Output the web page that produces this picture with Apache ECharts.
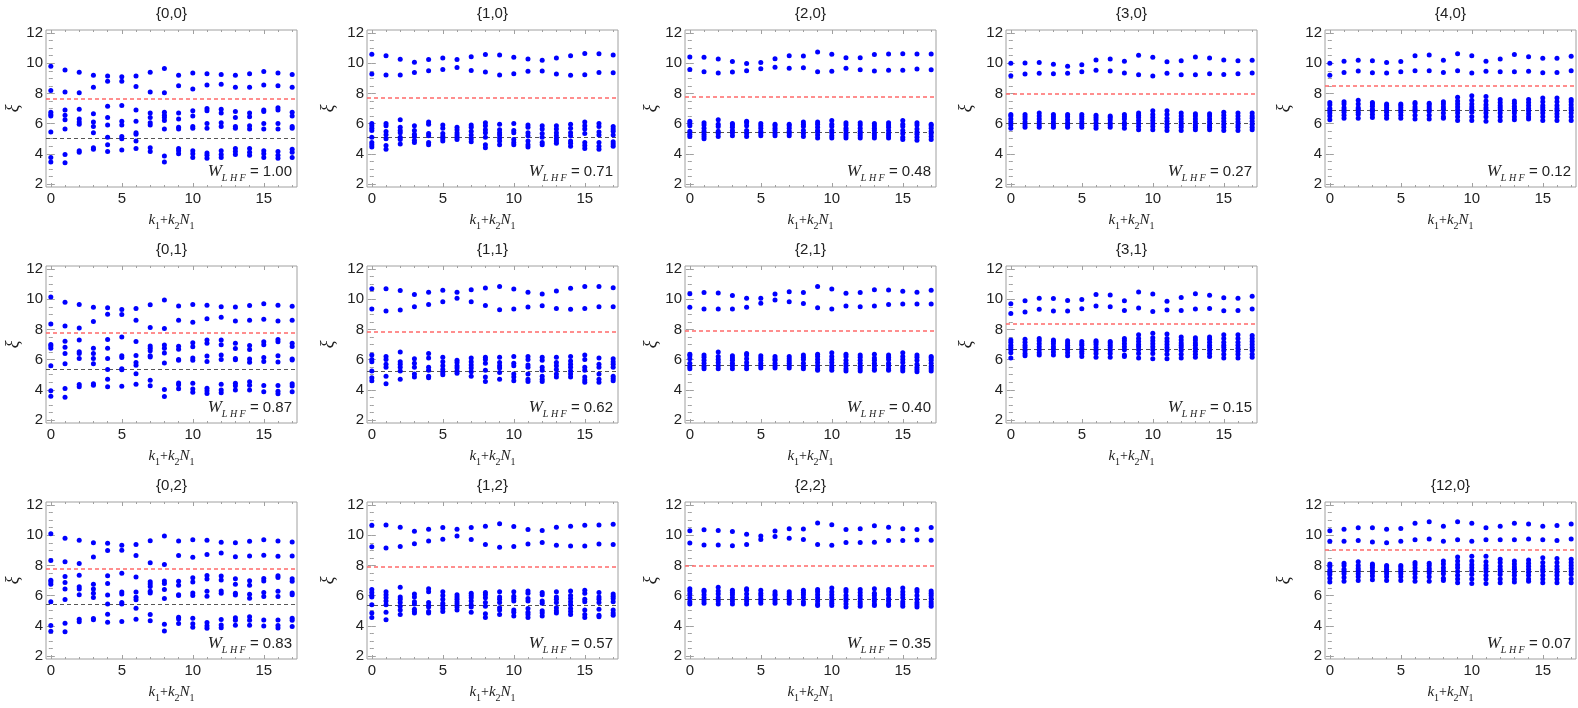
<!DOCTYPE html>
<html><head><meta charset="utf-8">
<script src="https://cdn.jsdelivr.net/npm/echarts@6/dist/echarts.min.js"></script>
<style>html,body{margin:0;padding:0;background:#fff}#c{width:1578px;height:708px}</style>
</head><body><div id="c"></div><script>
// ---------- data ----------
const kValues = [0,1,2,3,4,5,6,7,8,9,10,11,12,13,14,15,16,17];
const xTicks = [0,5,10,15];
const xMinorTicks = [1,2,3,4,6,7,8,9,11,12,13,14,16,17];
const yTicks = [2,4,6,8,10,12];
const yMinorTicks = [2.5,3,3.5,4.5,5,5.5,6.5,7,7.5,8.5,9,9.5,10.5,11,11.5];
const panelLabels = ['{0,0}','{1,0}','{2,0}','{3,0}','{4,0}','{0,1}','{1,1}','{2,1}','{3,1}','{0,2}','{1,2}','{2,2}','{12,0}'];
const weights = ['1.00','0.71','0.48','0.27','0.12','0.87','0.62','0.40','0.15','0.83','0.57','0.35','0.07'];
const redLevels  = [7.65, 7.7, 7.8, 7.95, 8.5, 7.75, 7.85, 7.9, 8.35, 7.75, 7.88, 7.95, 9.05];
const grayLevels = [5.02, 5.1, 5.45, 6.05, 6.9, 5.35, 5.25, 5.65, 6.7, 5.42, 5.38, 5.75, 7.6];

const p00 = [
[9.8,8.2,6.75,6.6,6.5,5.45,3.75,3.45],
[9.55,8.1,6.9,6.55,6.25,5.65,3.95,3.4],
[9.4,8.05,6.95,6.3,6.1,5.95,4.2,4.1],
[9.2,8.4,6.65,6.1,5.8,5.4,4.4,4.3],
[9.15,8.8,7.15,6.4,5.9,5.1,4.6,4.15],
[9.1,8.8,7.2,6.15,5.9,5.15,5.0,4.25],
[9.15,8.45,6.9,6.15,5.4,5.3,4.85,4.35],
[9.4,8.1,6.7,6.4,6.05,5.9,4.4,4.15],
[9.65,8.05,6.75,6.55,6.4,6.2,5.65,3.85,3.45],
[9.2,8.5,6.7,6.3,5.75,5.65,4.35,4.2,4.0],
[9.35,8.3,6.85,6.5,5.8,5.7,4.2,4.0,3.75],
[9.3,8.55,7.0,6.85,6.0,5.7,4.05,3.9,3.7],
[9.25,8.6,6.95,6.7,6.05,5.8,4.2,3.95,3.75],
[9.2,8.4,6.8,6.4,5.8,5.7,4.35,4.15,3.95],
[9.3,8.4,6.7,6.45,5.85,5.65,4.35,4.1,3.9],
[9.45,8.55,6.9,6.8,6.0,5.65,4.2,4.0,3.75],
[9.35,8.5,7.05,6.9,6.0,5.65,4.15,3.9,3.7],
[9.25,8.4,6.75,6.5,5.8,5.7,4.3,4.1,3.75]];

const p10 = [
[10.6,9.28,6.0,5.85,5.7,5.55,5.1,4.75,4.6,4.45],
[10.5,9.22,6.0,5.85,5.48,5.26,5.0,4.55,4.3],
[10.26,9.22,6.25,5.75,5.55,5.4,5.1,4.95,4.65],
[10.07,9.39,5.85,5.55,5.3,5.15,4.9,4.75],
[10.24,9.5,6.1,5.95,5.35,5.2,4.75,4.6],
[10.35,9.59,5.9,5.7,5.35,5.15,5.0,4.85],
[10.24,9.72,5.75,5.6,5.4,5.25,5.1,4.95],
[10.43,9.52,5.9,5.75,5.5,5.25,5.0,4.8],
[10.57,9.41,6.05,5.85,5.6,5.4,5.1,4.6,4.4],
[10.54,9.22,5.95,5.6,5.4,5.25,5.05,4.85,4.6],
[10.39,9.3,6.0,5.55,5.4,4.95,4.75,4.6],
[10.28,9.46,5.9,5.75,5.4,5.2,4.85,4.6,4.45],
[10.2,9.48,5.85,5.65,5.35,5.1,4.75,4.6],
[10.35,9.28,5.85,5.65,5.4,5.2,5.0,4.85,4.7],
[10.5,9.2,5.95,5.7,5.4,5.2,4.85,4.7,4.5],
[10.65,9.24,6.1,5.85,5.65,5.35,4.75,4.55,4.35],
[10.63,9.39,6.0,5.8,5.45,5.25,4.75,4.5,4.3],
[10.54,9.37,5.8,5.65,5.5,5.25,4.8,4.65,4.5]];

const p20 = [
[10.41,9.59,6.15,6.0,5.85,5.5,5.3,5.15],
[10.39,9.43,6.05,5.9,5.7,5.5,5.3,5.15,5.0],
[10.28,9.35,6.25,5.95,5.8,5.5,5.35,5.15],
[10.11,9.41,6.0,5.9,5.75,5.55,5.4,5.2],
[9.98,9.5,6.15,6.05,5.85,5.55,5.35,5.15],
[10.04,9.63,6.0,5.85,5.7,5.5,5.35,5.2],
[10.3,9.74,5.95,5.85,5.7,5.55,5.35,5.2],
[10.5,9.67,5.95,5.85,5.7,5.5,5.35,5.2],
[10.48,9.7,6.1,5.95,5.8,5.55,5.35,5.15],
[10.74,9.43,6.1,5.95,5.75,5.55,5.45,5.25,5.05],
[10.59,9.46,6.2,5.95,5.8,5.55,5.4,5.2,5.05],
[10.37,9.67,6.05,5.9,5.7,5.55,5.35,5.2,5.05],
[10.37,9.57,6.05,5.9,5.7,5.5,5.35,5.2,5.05],
[10.57,9.48,6.0,5.85,5.7,5.55,5.35,5.2,5.05],
[10.61,9.54,6.05,5.9,5.75,5.55,5.35,5.2,5.05],
[10.63,9.54,6.2,5.95,5.8,5.55,5.35,5.1,4.95],
[10.61,9.61,6.05,5.9,5.65,5.45,5.3,5.1,4.9],
[10.61,9.57,5.95,5.85,5.7,5.5,5.35,5.15,4.95]];

const p30 = [
[10.0,9.17,6.6,6.5,6.3,6.1,5.9,5.7],
[10.02,9.28,6.6,6.45,6.3,6.1,5.9,5.75],
[10.04,9.33,6.7,6.5,6.3,6.1,5.9,5.75],
[9.93,9.3,6.6,6.45,6.3,6.1,5.9,5.75],
[9.8,9.33,6.6,6.45,6.25,6.05,5.9,5.75],
[9.89,9.43,6.6,6.45,6.3,6.1,5.9,5.75],
[10.22,9.54,6.55,6.4,6.25,6.05,5.85,5.7],
[10.28,9.48,6.5,6.4,6.25,6.05,5.9,5.75],
[10.13,9.35,6.6,6.45,6.3,6.05,5.9,5.7],
[10.52,9.24,6.7,6.55,6.4,6.2,6.0,5.8,5.6],
[10.39,9.15,6.85,6.6,6.4,6.2,6.0,5.8,5.6],
[10.09,9.33,6.85,6.6,6.35,6.15,5.95,5.75,5.55],
[10.17,9.24,6.7,6.5,6.3,6.1,5.9,5.75,5.55],
[10.41,9.24,6.65,6.5,6.3,6.1,5.9,5.75,5.6],
[10.35,9.3,6.65,6.5,6.3,6.1,5.9,5.75,5.6],
[10.22,9.26,6.75,6.55,6.35,6.15,5.95,5.75,5.55],
[10.17,9.3,6.7,6.5,6.3,6.1,5.9,5.75,5.55],
[10.2,9.35,6.7,6.5,6.35,6.15,5.95,5.75,5.6]];

const p40 = [
[10.0,9.2,7.4,7.25,7.0,6.85,6.7,6.5,6.25],
[10.13,9.39,7.45,7.3,7.05,6.9,6.75,6.55,6.35],
[10.2,9.48,7.55,7.3,7.05,6.95,6.75,6.6,6.35],
[10.17,9.37,7.4,7.3,7.15,6.95,6.8,6.6,6.4],
[10.04,9.35,7.3,7.2,7.05,6.9,6.75,6.55,6.35],
[10.11,9.43,7.3,7.2,7.05,6.9,6.75,6.55,6.35],
[10.5,9.5,7.4,7.3,7.1,6.95,6.8,6.55,6.3],
[10.54,9.5,7.35,7.25,7.1,6.95,6.8,6.55,6.3],
[10.2,9.39,7.45,7.3,7.1,6.95,6.7,6.45,6.35],
[10.63,9.5,7.75,7.5,7.3,7.1,6.9,6.7,6.45,6.2],
[10.5,9.35,7.85,7.55,7.3,7.1,6.95,6.75,6.45,6.2],
[10.13,9.46,7.8,7.5,7.25,7.05,6.9,6.7,6.45,6.15],
[10.28,9.43,7.6,7.4,7.2,7.05,6.9,6.7,6.45,6.2],
[10.57,9.43,7.5,7.35,7.15,7.0,6.85,6.7,6.45,6.25],
[10.43,9.46,7.6,7.4,7.2,7.0,6.85,6.65,6.45,6.3],
[10.33,9.37,7.7,7.45,7.2,7.05,6.9,6.7,6.45,6.2],
[10.33,9.39,7.7,7.45,7.2,7.0,6.85,6.65,6.45,6.2],
[10.46,9.5,7.6,7.45,7.25,7.05,6.9,6.7,6.45,6.2]];

const p01 = [
[10.15,8.35,7.0,6.9,6.75,5.6,3.93,3.57],
[9.8,8.22,7.22,6.82,6.4,5.73,4.08,3.5],
[9.65,8.1,7.3,6.52,6.4,6.07,4.35,4.2],
[9.47,8.53,6.75,6.4,6.07,5.73,4.4,4.3],
[9.43,9.0,7.33,6.75,6.07,5.35,4.7,4.2],
[9.32,8.98,7.5,6.25,6.14,5.4,5.32,4.24],
[9.38,8.6,7.2,6.27,5.8,5.62,5.07,4.37],
[9.63,8.13,6.9,6.75,6.58,6.25,6.17,4.63,4.26],
[9.95,8.06,6.97,6.75,6.43,5.77,4.02,3.55],
[9.55,8.6,6.88,6.68,6.01,5.95,4.45,4.33,4.07],
[9.65,8.48,7.12,6.85,6.1,5.95,4.43,4.05,3.83],
[9.6,8.7,7.3,7.08,6.23,5.88,4.1,3.93,3.76],
[9.5,8.8,7.3,6.98,6.3,6.0,4.36,3.98,3.81],
[9.48,8.55,7.08,6.73,6.08,5.99,4.43,4.27,3.98],
[9.58,8.6,6.93,6.67,6.04,5.82,4.54,4.3,3.98],
[9.7,8.68,7.18,6.98,6.14,5.88,4.28,3.87],
[9.6,8.56,7.33,7.18,6.25,5.84,4.28,3.91,3.74],
[9.53,8.6,7.08,6.86,6.04,5.97,4.4,4.25,3.87]];

const p11 = [
[10.7,9.35,6.3,6.0,5.85,5.25,4.8,4.6],
[10.7,9.22,6.2,6.0,5.7,5.5,4.9,4.4],
[10.57,9.28,6.5,5.85,5.7,5.5,5.25,4.7],
[10.31,9.5,6.05,5.75,5.5,5.05,4.85],
[10.46,9.65,6.4,6.1,5.5,5.3,4.9,4.8],
[10.59,9.83,6.15,5.85,5.6,5.35,5.15,5.0],
[10.46,10.07,5.95,5.8,5.6,5.45,5.25,5.1],
[10.63,9.83,6.1,5.85,5.65,5.45,5.2,4.9],
[10.74,9.59,6.15,6.0,5.75,5.3,4.85,4.55],
[10.85,9.31,6.15,5.8,5.6,5.45,5.15,4.7],
[10.68,9.35,6.2,5.75,5.6,5.05,4.85,4.6],
[10.46,9.48,6.2,6.0,5.65,5.5,5.05,4.7,4.55],
[10.35,9.57,6.15,5.95,5.5,5.3,4.9,4.7,4.55],
[10.55,9.39,6.15,5.8,5.6,5.35,5.05,4.85],
[10.72,9.33,6.2,5.9,5.7,5.5,5.25,5.05,4.85],
[10.85,9.39,6.3,6.0,5.5,5.3,4.85,4.65,4.5],
[10.85,9.5,6.1,5.7,5.5,5.05,4.7,4.5],
[10.76,9.5,6.05,5.85,5.7,5.5,4.9,4.75,4.6]];

const p21 = [
[10.37,9.46,6.35,6.25,6.05,5.75,5.55,5.4],
[10.44,9.35,6.3,6.15,5.95,5.75,5.55,5.4],
[10.41,9.35,6.5,6.2,6.0,5.8,5.6,5.4],
[10.24,9.35,6.25,6.1,5.95,5.75,5.6,5.4],
[10.07,9.46,6.4,6.3,6.05,5.8,5.6,5.4],
[10.07,9.74,6.25,6.1,5.95,5.75,5.6,5.45],
[10.35,9.94,6.2,6.05,5.95,5.75,5.6,5.45],
[10.5,9.83,6.2,6.05,5.9,5.75,5.6,5.45],
[10.44,9.72,6.3,6.15,6.0,5.75,5.55,5.4],
[10.85,9.44,6.35,6.2,6.0,5.8,5.6,5.4,5.3],
[10.68,9.35,6.45,6.2,6.0,5.8,5.6,5.45,5.3],
[10.39,9.55,6.35,6.2,5.95,5.75,5.6,5.4,5.25],
[10.44,9.5,6.3,6.15,5.95,5.75,5.55,5.4,5.25],
[10.63,9.55,6.35,6.1,5.95,5.75,5.6,5.4,5.3],
[10.61,9.65,6.3,6.15,6.0,5.75,5.6,5.4,5.3],
[10.52,9.68,6.45,6.2,6.0,5.8,5.55,5.4,5.25],
[10.46,9.68,6.3,6.15,5.95,5.7,5.5,5.35,5.2],
[10.59,9.68,6.2,6.1,5.95,5.75,5.55,5.4,5.25]];

const p31 = [
[9.7,9.05,7.3,7.15,6.95,6.8,6.65,6.45,6.1],
[9.89,9.15,7.35,7.15,6.95,6.8,6.6,6.4,6.25],
[10.07,9.33,7.4,7.25,7.05,6.85,6.65,6.45,6.3],
[10.05,9.22,7.3,7.2,7.05,6.85,6.7,6.5,6.3],
[9.91,9.22,7.25,7.1,6.95,6.8,6.65,6.45,6.25],
[9.98,9.37,7.2,7.05,6.95,6.75,6.55,6.4,6.2],
[10.31,9.55,7.25,7.15,7.0,6.8,6.6,6.4,6.15],
[10.28,9.5,7.2,7.1,6.95,6.8,6.6,6.4,6.15],
[9.89,9.26,7.4,7.25,7.05,6.85,6.65,6.3,6.2],
[10.48,9.41,7.65,7.4,7.2,7.0,6.85,6.65,6.4,6.1],
[10.35,9.18,7.75,7.45,7.25,7.05,6.85,6.65,6.4,6.05],
[9.87,9.28,7.7,7.4,7.2,7.0,6.8,6.6,6.35,6.05],
[10.11,9.26,7.5,7.3,7.1,6.95,6.8,6.6,6.35,6.1],
[10.37,9.35,7.45,7.3,7.1,6.95,6.75,6.55,6.35,6.15],
[10.26,9.39,7.5,7.35,7.15,6.95,6.8,6.6,6.4,6.2],
[10.09,9.24,7.65,7.4,7.15,6.95,6.8,6.6,6.35,6.1],
[10.07,9.26,7.65,7.4,7.15,6.95,6.75,6.55,6.35,6.1],
[10.2,9.35,7.6,7.4,7.2,7.0,6.8,6.6,6.35,6.15]];

const p02 = [
[10.1,8.32,7.01,6.9,6.75,5.59,4.02,3.63],
[9.8,8.24,7.27,6.86,6.43,5.74,4.17,3.61],
[9.66,8.13,7.35,6.58,6.43,6.06,4.43,4.26],
[9.5,8.56,6.75,6.43,6.15,5.87,4.49,4.4],
[9.46,8.99,7.31,6.8,6.04,5.44,4.77,4.24],
[9.33,9.01,7.48,6.24,6.11,5.55,5.44,4.28],
[9.38,8.65,7.23,6.24,5.89,5.72,5.16,4.43],
[9.63,8.17,6.92,6.77,6.6,6.28,6.17,4.75,4.34],
[9.94,8.06,6.97,6.8,6.41,5.81,4.11,3.66],
[9.61,8.65,6.95,6.69,6.06,6.0,4.56,4.45,4.15],
[9.7,8.54,7.18,6.9,6.17,6.0,4.5,4.13,3.91],
[9.66,8.73,7.33,7.1,6.28,5.96,4.21,4.0,3.83],
[9.53,8.82,7.29,7.03,6.3,6.15,4.41,4.06,3.87],
[9.5,8.58,7.12,6.75,6.15,6.04,4.54,4.37,4.04],
[9.6,8.63,6.99,6.69,6.09,5.83,4.6,4.37,4.04],
[9.7,8.67,7.14,6.97,6.2,5.94,4.39,3.98],
[9.61,8.61,7.31,7.2,6.28,5.94,4.39,4.02,3.85],
[9.55,8.63,7.12,6.95,6.17,6.06,4.5,4.37,3.96]];

const p12 = [
[10.66,9.23,6.4,6.2,6.0,5.9,5.4,4.85,4.55],
[10.68,9.16,6.25,6.05,5.85,5.65,5.4,4.9,4.4],
[10.53,9.25,6.55,5.9,5.75,5.55,5.3,5.05,4.75],
[10.27,9.44,6.1,5.9,5.6,5.45,5.1,4.95,4.85],
[10.4,9.61,6.45,6.25,5.55,5.35,5.25,4.95,4.85],
[10.51,9.74,6.25,6.0,5.75,5.5,5.35,5.15,4.95],
[10.4,9.95,6.05,5.9,5.75,5.6,5.45,5.25,5.05],
[10.51,9.72,6.15,6.0,5.85,5.65,5.4,5.25,4.9],
[10.59,9.38,6.2,6.05,5.85,5.55,5.3,4.8,4.55],
[10.76,9.21,6.25,5.9,5.75,5.55,5.2,5.05,4.75],
[10.57,9.25,6.25,5.95,5.8,5.65,5.05,4.9,4.65],
[10.38,9.42,6.3,6.15,5.8,5.65,5.15,4.9,4.75,4.55],
[10.32,9.51,6.2,6.05,5.65,5.5,5.0,4.85,4.65],
[10.53,9.33,6.25,5.9,5.75,5.55,5.2,5.0,4.85],
[10.59,9.29,6.3,6.0,5.8,5.6,5.4,5.15,4.95,4.75],
[10.66,9.29,6.35,6.15,5.75,5.6,5.05,4.75,4.55],
[10.68,9.42,6.2,5.9,5.75,5.55,5.1,4.7,4.6],
[10.72,9.38,6.1,5.95,5.8,5.6,5.05,4.85,4.7]];

const p22 = [
[10.3,9.48,6.45,6.3,6.1,5.85,5.6,5.45],
[10.36,9.35,6.35,6.25,6.05,5.85,5.65,5.5],
[10.32,9.35,6.55,6.3,6.1,5.85,5.65,5.45],
[10.25,9.31,6.35,6.2,6.05,5.85,5.65,5.45],
[10.06,9.39,6.45,6.35,6.1,5.85,5.65,5.45],
[9.95,9.72,6.35,6.15,6.0,5.8,5.65,5.5],
[10.28,9.91,6.25,6.1,6.0,5.8,5.65,5.5],
[10.43,9.8,6.25,6.1,5.95,5.8,5.65,5.5],
[10.41,9.72,6.35,6.2,6.05,5.85,5.6,5.45],
[10.81,9.39,6.4,6.25,6.05,5.85,5.65,5.45,5.35],
[10.69,9.33,6.5,6.25,6.05,5.85,5.65,5.5,5.35],
[10.38,9.52,6.4,6.25,6.0,5.8,5.65,5.45,5.25],
[10.43,9.52,6.4,6.2,6.0,5.8,5.6,5.45,5.3],
[10.62,9.54,6.45,6.15,6.0,5.8,5.65,5.45,5.35],
[10.53,9.65,6.4,6.25,6.05,5.8,5.65,5.45,5.35],
[10.43,9.65,6.5,6.25,6.05,5.85,5.6,5.45,5.3],
[10.38,9.69,6.4,6.25,6.0,5.75,5.55,5.4,5.25],
[10.51,9.67,6.3,6.15,6.0,5.8,5.6,5.45,5.3]];

const p120 = [
[10.3,9.6,8.1,7.95,7.7,7.55,7.4,7.15,6.9],
[10.4,9.6,8.15,8.0,7.75,7.6,7.45,7.2,6.95],
[10.5,9.65,8.25,8.0,7.8,7.65,7.45,7.25,7.0],
[10.5,9.55,8.1,8.0,7.85,7.65,7.5,7.3,7.05],
[10.4,9.5,8.0,7.9,7.75,7.6,7.45,7.25,7.0],
[10.45,9.6,8.0,7.9,7.75,7.6,7.45,7.25,7.0],
[10.8,9.7,8.2,8.05,7.85,7.65,7.45,7.2,6.95],
[10.9,9.75,8.15,8.0,7.8,7.65,7.5,7.25,6.95],
[10.6,9.6,8.3,8.1,7.85,7.65,7.45,7.15,7.0],
[10.9,9.7,8.55,8.3,8.05,7.85,7.6,7.35,7.1,6.85],
[10.8,9.6,8.6,8.3,8.05,7.85,7.65,7.4,7.1,6.8],
[10.5,9.7,8.6,8.25,8.0,7.8,7.6,7.35,7.1,6.8],
[10.6,9.7,8.4,8.2,7.95,7.75,7.6,7.4,7.1,6.85],
[10.8,9.7,8.3,8.1,7.9,7.75,7.55,7.35,7.1,6.9],
[10.75,9.75,8.35,8.15,7.95,7.75,7.55,7.35,7.1,6.95],
[10.6,9.7,8.5,8.2,7.95,7.75,7.6,7.35,7.1,6.85],
[10.65,9.65,8.45,8.2,7.95,7.75,7.55,7.35,7.1,6.85],
[10.75,9.75,8.4,8.2,8.0,7.8,7.6,7.4,7.1,6.85]];

const panels = [p00,p10,p20,p30,p40,p01,p11,p21,p31,p02,p12,p22,p120];

// ---------- layout ----------
const colLeft = [46, 367, 685, 1006, 1325];
const rowTop = [30, 266, 502];
const plotW = 251, plotH = 157;
const yNameGap = [24, 30, 25, 31, 32];
const slots = [[0,0],[0,1],[0,2],[0,3],[0,4],[1,0],[1,1],[1,2],[1,3],[2,0],[2,1],[2,2],[2,4]];
const xMin = -0.34, xMax = 17.34, yMin = 1.8, yMax = 12.2;
const frameColor = '#a0a0a0';
const labelColor = '#222';
const sans = '"Liberation Sans", Arial, sans-serif';
const serif = '"Liberation Serif", "Times New Roman", serif';

const grids = [], xAxes = [], yAxes = [], series = [], graphics = [];

function axisCommon(extra) {
  return Object.assign({ type: 'value', axisLine: { show: false }, splitLine: { show: false } }, extra);
}

panels.forEach((pdata, i) => {
  const [r, c] = slots[i];
  const left = colLeft[c], top = rowTop[r];
  grids.push({ left: left, top: top, width: plotW, height: plotH, show: true,
    borderColor: frameColor, borderWidth: 1, backgroundColor: 'transparent', outerBoundsMode: 'none', containLabel: false });
  const xBase = { gridIndex: i, min: xMin, max: xMax };
  const yBase = { gridIndex: i, min: yMin, max: yMax };
  const tick = (vals, len) => ({ show: true, inside: true, length: len, customValues: vals, lineStyle: { color: frameColor, width: 1 } });
  xAxes.push(axisCommon(Object.assign({}, xBase, {
    position: 'bottom', axisTick: tick(xTicks, 4),
    axisLabel: { show: true, customValues: xTicks, color: labelColor, fontSize: 15, fontFamily: sans, margin: 4 },
    name: '{i|k}{s|1}{p|+}{i|k}{s|2}{i|N}{s|1}', nameLocation: 'middle', nameGap: 22,
    nameTextStyle: { rich: {
      i: { fontFamily: serif, fontStyle: 'italic', fontSize: 15, lineHeight: 22, color: labelColor },
      p: { fontFamily: serif, fontSize: 14, lineHeight: 22, color: labelColor },
      s: { fontFamily: serif, fontSize: 10, lineHeight: 22, verticalAlign: 'bottom', color: labelColor }
    } }
  })));
  xAxes.push(axisCommon(Object.assign({}, xBase, { position: 'bottom', axisTick: tick(xMinorTicks, 2), axisLabel: { show: false } })));
  xAxes.push(axisCommon(Object.assign({}, xBase, { position: 'top', axisTick: tick(xTicks, 4), axisLabel: { show: false } })));
  xAxes.push(axisCommon(Object.assign({}, xBase, { position: 'top', axisTick: tick(xMinorTicks, 2), axisLabel: { show: false } })));
  yAxes.push(axisCommon(Object.assign({}, yBase, {
    position: 'left', axisTick: tick(yTicks, 4),
    axisLabel: { show: true, customValues: yTicks, color: labelColor, fontSize: 15, fontFamily: sans, margin: 3 },
    name: 'ξ', nameLocation: 'middle', nameGap: yNameGap[c],
    nameTextStyle: { fontFamily: serif, fontStyle: 'italic', fontSize: 18, color: labelColor }
  })));
  yAxes.push(axisCommon(Object.assign({}, yBase, { position: 'left', axisTick: tick(yMinorTicks, 2), axisLabel: { show: false } })));
  yAxes.push(axisCommon(Object.assign({}, yBase, { position: 'right', axisTick: tick(yTicks, 4), axisLabel: { show: false } })));
  yAxes.push(axisCommon(Object.assign({}, yBase, { position: 'right', axisTick: tick(yMinorTicks, 2), axisLabel: { show: false } })));

  const data = [];
  pdata.forEach((vals, k) => vals.forEach(v => data.push([kValues[k], v])));
  series.push({
    type: 'scatter', xAxisIndex: 4 * i, yAxisIndex: 4 * i, data: data,
    symbol: 'circle', symbolSize: 5, itemStyle: { color: '#0000ff', opacity: 1 }, silent: true, z: 3,
    markLine: { silent: true, symbol: 'none', label: { show: false }, z: 2,
      data: [
        { yAxis: redLevels[i], lineStyle: { color: '#ff6a6a', type: [4, 3], width: 1.5, opacity: 1 } },
        { yAxis: grayLevels[i], lineStyle: { color: '#555555', type: [4, 3], width: 1 } }
      ] }
  });

  graphics.push({ type: 'text', x: left + plotW / 2, y: top - 16, silent: true,
    style: { text: panelLabels[i], font: '15px ' + sans, fill: labelColor, align: 'center', verticalAlign: 'middle', textAlign: 'center', textVerticalAlign: 'middle' } });
  graphics.push({ type: 'text', x: left + plotW - 5, y: top + plotH - 4, silent: true,
    style: { text: '{w|W}{s|L H F}{e| = ' + weights[i] + '}', align: 'right', verticalAlign: 'bottom', textAlign: 'right', textVerticalAlign: 'bottom',
      rich: {
        w: { fontFamily: serif, fontStyle: 'italic', fontSize: 17, lineHeight: 22, fill: labelColor, color: labelColor },
        s: { fontFamily: serif, fontStyle: 'italic', fontSize: 10, lineHeight: 22, verticalAlign: 'bottom', fill: labelColor, color: labelColor },
        e: { fontFamily: sans, fontSize: 15, lineHeight: 22, fill: labelColor, color: labelColor }
      } } });
});

const chart = echarts.init(document.getElementById('c'), null, { renderer: 'canvas' });
chart.setOption({
  animation: false,
  backgroundColor: '#fff',
  textStyle: { fontFamily: sans },
  grid: grids, xAxis: xAxes, yAxis: yAxes, series: series, graphic: graphics
});
</script></body></html>
